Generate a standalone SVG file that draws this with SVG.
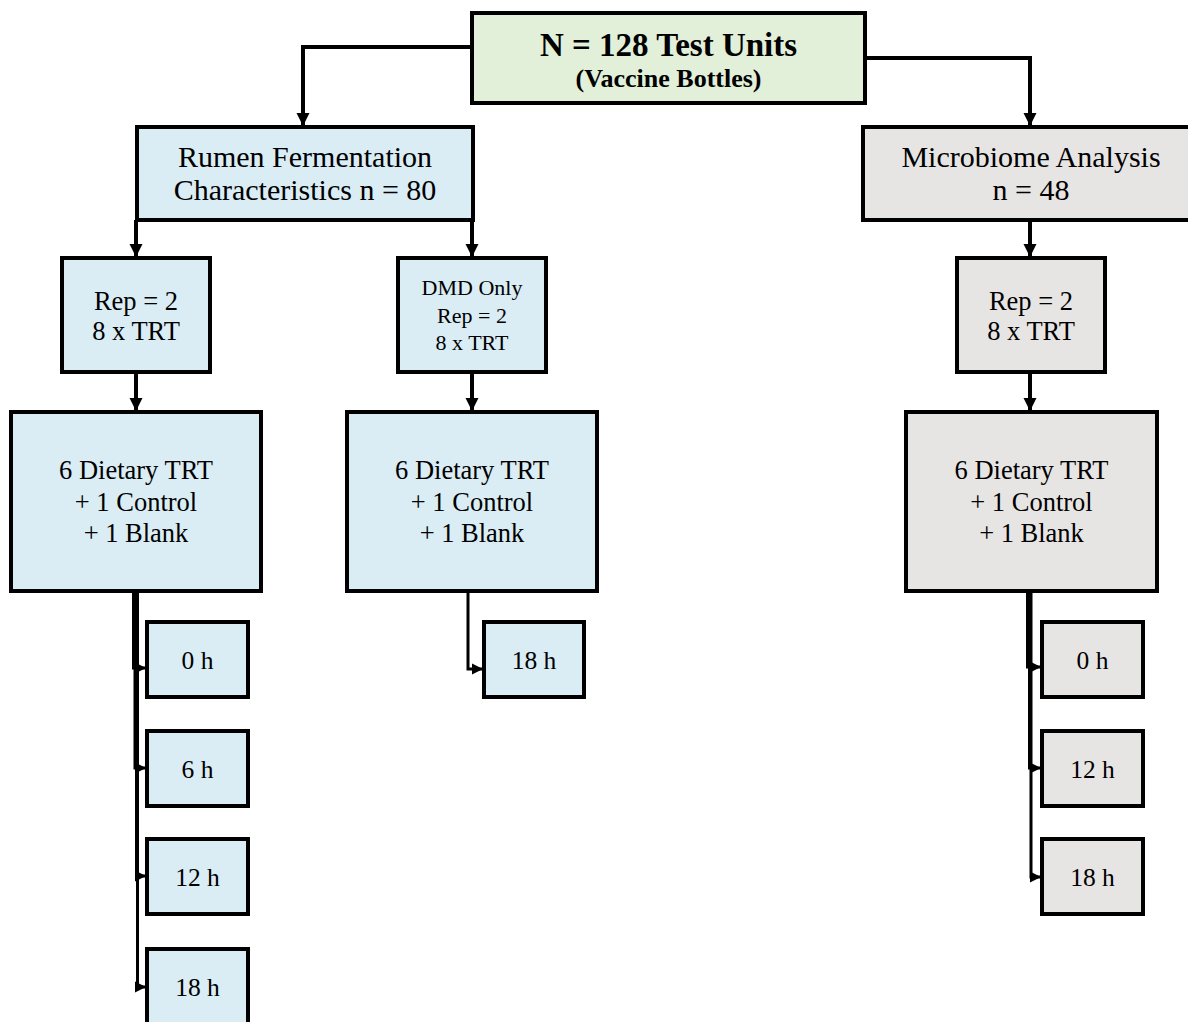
<svg xmlns="http://www.w3.org/2000/svg" width="1188" height="1022" viewBox="0 0 1188 1022">
  <style>
    .box { stroke: #000; stroke-width: 4; }
    .green { fill: #e2efd9; }
    .blue { fill: #daedf5; }
    .grey { fill: #e7e5e4; }
    text { font-family: "Liberation Serif", "Times New Roman", serif; fill: #000; text-anchor: middle; }
    .title { font-size: 33px; font-weight: bold; }
    .sub { font-size: 26px; font-weight: bold; }
    .head { font-size: 30px; }
    .body { font-size: 26.5px; }
    .small { font-size: 22px; }
    .time { font-size: 25.5px; }
    .link { fill: none; stroke: #000; stroke-width: 4; }
    .tline { fill: none; stroke: #000; stroke-width: 3; }
  </style>
  <defs>
    <marker id="arrow" markerUnits="userSpaceOnUse" markerWidth="14" markerHeight="14" viewBox="0 0 14 14" refX="13" refY="7" orient="auto">
      <path d="M0,0.5 L13,7 L0,13.5 Z" fill="#000"/>
    </marker>
    <marker id="tick" markerUnits="userSpaceOnUse" markerWidth="12" markerHeight="12" viewBox="0 0 12 12" refX="11" refY="6" orient="auto">
      <path d="M0,0.5 L11,6 L0,11.5 Z" fill="#000"/>
    </marker>
  </defs>

  <!-- connectors -->
  <g id="connectors">
    <path class="link" d="M472,47 H303 V126" marker-end="url(#arrow)"/>
    <path class="link" d="M865,58 H1030 V126" marker-end="url(#arrow)"/>
    <path class="link" d="M136,220 V257" marker-end="url(#arrow)"/>
    <path class="link" d="M472,220 V257" marker-end="url(#arrow)"/>
    <path class="link" d="M1030,221 V257" marker-end="url(#arrow)"/>
    <path class="link" d="M136,372 V411" marker-end="url(#arrow)"/>
    <path class="link" d="M472,372 V411" marker-end="url(#arrow)"/>
    <path class="link" d="M1030,372 V411" marker-end="url(#arrow)"/>
    <!-- left sampling times -->
    <path class="tline" d="M133.5,591 V668 H146" marker-end="url(#tick)"/>
    <path class="tline" d="M135,591 V768 H146" marker-end="url(#tick)"/>
    <path class="tline" d="M136.5,591 V876 H146" marker-end="url(#tick)"/>
    <path class="tline" d="M137.5,591 V987 H146" marker-end="url(#tick)"/>
    <!-- DMD sampling time -->
    <path class="tline" d="M468,591 V669 H483" marker-end="url(#tick)"/>
    <!-- microbiome sampling times -->
    <path class="tline" d="M1027.5,591 V667 H1041" marker-end="url(#tick)"/>
    <path class="tline" d="M1029.5,591 V768 H1041" marker-end="url(#tick)"/>
    <path class="tline" d="M1031,591 V877 H1041" marker-end="url(#tick)"/>
  </g>

  <g id="total">
    <rect class="box green" x="472" y="13" width="393" height="90"/>
    <text class="title" x="668.5" y="56">N = 128 Test Units</text>
    <text class="sub" x="668.5" y="87">(Vaccine Bottles)</text>
  </g>

  <g id="rumen">
    <rect class="box blue" x="137" y="127" width="336" height="93"/>
    <text class="head" x="305" y="167">Rumen Fermentation</text>
    <text class="head" x="305" y="200">Characteristics n = 80</text>
  </g>

  <g id="microbiome">
    <rect class="box grey" x="863" y="127" width="336" height="93"/>
    <text class="head" x="1031" y="167">Microbiome Analysis</text>
    <text class="head" x="1031" y="200">n = 48</text>
  </g>

  <g id="rep-rumen">
    <rect class="box blue" x="62" y="258" width="148" height="114"/>
    <text class="body" x="136" y="310">Rep = 2</text>
    <text class="body" x="136" y="340">8 x TRT</text>
  </g>

  <g id="rep-dmd">
    <rect class="box blue" x="398" y="258" width="148" height="114"/>
    <text class="small" x="472" y="295">DMD Only</text>
    <text class="small" x="472" y="323">Rep = 2</text>
    <text class="small" x="472" y="350">8 x TRT</text>
  </g>

  <g id="rep-micro">
    <rect class="box grey" x="957" y="258" width="148" height="114"/>
    <text class="body" x="1031" y="310">Rep = 2</text>
    <text class="body" x="1031" y="340">8 x TRT</text>
  </g>

  <g id="trt-rumen">
    <rect class="box blue" x="11" y="412" width="250" height="179"/>
    <text class="body" x="136" y="479">6 Dietary TRT</text>
    <text class="body" x="136" y="511">+ 1 Control</text>
    <text class="body" x="136" y="542">+ 1 Blank</text>
  </g>

  <g id="trt-dmd">
    <rect class="box blue" x="347" y="412" width="250" height="179"/>
    <text class="body" x="472" y="479">6 Dietary TRT</text>
    <text class="body" x="472" y="511">+ 1 Control</text>
    <text class="body" x="472" y="542">+ 1 Blank</text>
  </g>

  <g id="trt-micro">
    <rect class="box grey" x="906" y="412" width="251" height="179"/>
    <text class="body" x="1031.5" y="479">6 Dietary TRT</text>
    <text class="body" x="1031.5" y="511">+ 1 Control</text>
    <text class="body" x="1031.5" y="542">+ 1 Blank</text>
  </g>

  <g id="rumen-0h">
    <rect class="box blue" x="147" y="622" width="101" height="75"/>
    <text class="time" x="197.5" y="669">0 h</text>
  </g>
  <g id="rumen-6h">
    <rect class="box blue" x="147" y="731" width="101" height="75"/>
    <text class="time" x="197.5" y="778">6 h</text>
  </g>
  <g id="rumen-12h">
    <rect class="box blue" x="147" y="839" width="101" height="75"/>
    <text class="time" x="197.5" y="886">12 h</text>
  </g>
  <g id="rumen-18h">
    <rect class="box blue" x="147" y="949" width="101" height="80"/>
    <text class="time" x="197.5" y="996">18 h</text>
  </g>

  <g id="dmd-18h">
    <rect class="box blue" x="484" y="622" width="100" height="75"/>
    <text class="time" x="534" y="669">18 h</text>
  </g>

  <g id="micro-0h">
    <rect class="box grey" x="1042" y="622" width="101" height="75"/>
    <text class="time" x="1092.5" y="669">0 h</text>
  </g>
  <g id="micro-12h">
    <rect class="box grey" x="1042" y="731" width="101" height="75"/>
    <text class="time" x="1092.5" y="778">12 h</text>
  </g>
  <g id="micro-18h">
    <rect class="box grey" x="1042" y="839" width="101" height="75"/>
    <text class="time" x="1092.5" y="886">18 h</text>
  </g>
</svg>
